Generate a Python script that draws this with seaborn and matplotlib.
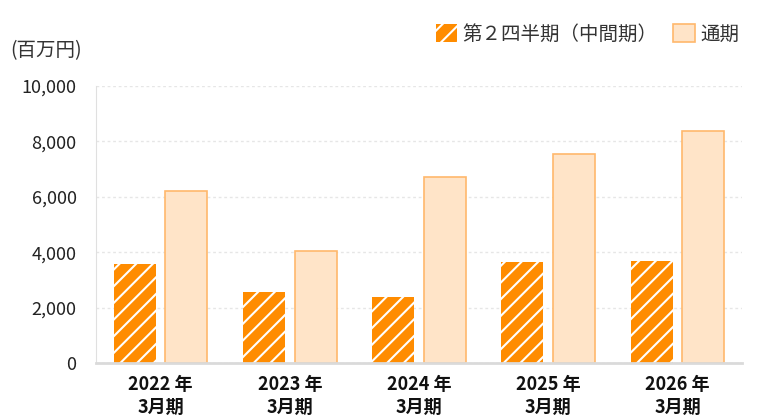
import matplotlib
matplotlib.use("Agg")
import matplotlib.pyplot as plt
import seaborn as sns
import pandas as pd
from matplotlib.patches import Patch
from matplotlib.ticker import FuncFormatter

categories = ["2022 年\n3月期", "2023 年\n3月期", "2024 年\n3月期", "2025 年\n3月期", "2026 年\n3月期"]
series_names = ["第２四半期（中間期）", "通期"]
q2_values = [3560, 2580, 2400, 3650, 3700]
full_values = [6200, 4060, 6710, 7540, 8380]
y_ticks = [0, 2000, 4000, 6000, 8000, 10000]
unit_label = "(百万円)"

sns.set_theme(style="white")
plt.rcParams['font.family'] = ['Noto Sans CJK JP', 'DejaVu Sans']
plt.rcParams['hatch.linewidth'] = 1.5

df = pd.DataFrame({
    "cat": categories * 2,
    "series": [series_names[0]] * len(categories) + [series_names[1]] * len(categories),
    "value": q2_values + full_values,
})

fig = plt.figure(figsize=(7.7, 4.2), dpi=100)
ax = fig.add_axes([96 / 770, 1 - 363 / 420, (742 - 96) / 770, (363 - 86) / 420])

orange = "#FF8C00"
peach_face = "#FFE4C8"
peach_edge = "#FFB86C"

sns.barplot(data=df, x="cat", y="value", hue="series", hue_order=series_names,
            palette=[orange, peach_face], width=0.8, gap=0.1875, ax=ax,
            legend=False, saturation=1)

n = len(categories)
for i, p in enumerate(ax.patches[:2 * n]):
    if i < n:
        p.set_facecolor(orange)
        p.set_edgecolor("white")
        p.set_linewidth(0)
        p.set_hatch("//")
    else:
        p.set_facecolor(peach_face)
        p.set_edgecolor(peach_edge)
        p.set_linewidth(1.2)

ax.set_ylim(0, 10000)
ax.set_xlim(-0.5, n - 0.5)
ax.set_yticks(y_ticks)
ax.yaxis.set_major_formatter(FuncFormatter(lambda v, _: f"{int(v):,}"))
ax.tick_params(axis="y", labelsize=13, colors="#222222", length=0, pad=14)
ax.tick_params(axis="x", labelsize=13, length=0, pad=9)
for lbl in ax.get_xticklabels():
    lbl.set_fontweight("bold")
    lbl.set_color("#111111")
    lbl.set_linespacing(1.2)
ax.set_xlabel("")
ax.set_ylabel("")

ax.grid(axis="y", color="#E6E6E6", linestyle=(0, (2, 2)), linewidth=1)
ax.set_axisbelow(True)
for s in ["top", "right"]:
    ax.spines[s].set_visible(False)
ax.spines["left"].set_color("#E0E0E0")
ax.spines["left"].set_linewidth(0.8)
ax.spines["bottom"].set_color("#DADADA")
ax.spines["bottom"].set_linewidth(2)

fig.text(10 / 770, 1 - 51 / 420, unit_label, fontsize=14, color="#333333", va="center", ha="left")

handles = [
    Patch(facecolor=orange, edgecolor="white", linewidth=0, hatch="//"),
    Patch(facecolor=peach_face, edgecolor=peach_edge, linewidth=1.2),
]
fig.legend(handles, series_names, loc="center right", bbox_to_anchor=(757 / 770, 1 - 34 / 420),
           ncol=2, frameon=False, fontsize=14, handlelength=1.1, handleheight=1.1,
           handletextpad=0.3, columnspacing=0.8, labelcolor="#333333")

fig.savefig("out.png", dpi=100)
